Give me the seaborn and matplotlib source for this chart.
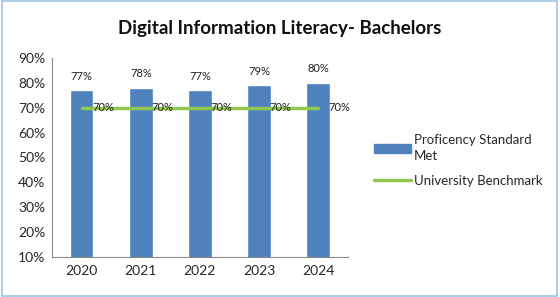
import matplotlib
matplotlib.use("Agg")
import matplotlib.pyplot as plt
import seaborn as sns
import pandas as pd
from matplotlib.patches import Rectangle, Patch
from matplotlib.lines import Line2D
from matplotlib.ticker import FixedLocator

years = ["2020", "2021", "2022", "2023", "2024"]
proficiency = [77, 78, 77, 79, 80]
benchmark = [70, 70, 70, 70, 70]
yticks = [10, 20, 30, 40, 50, 60, 70, 80, 90]

sns.set_style("white")
plt.rcParams['font.family'] = ['Lato', 'DejaVu Sans']

bar_color = "#4F81BD"
line_color = "#92C84F"

fig = plt.figure(figsize=(5.6, 2.97), dpi=100)
ax = fig.add_axes([0.093, 0.135, 0.528, 0.67])

df = pd.DataFrame({"year": years, "prof": proficiency, "bench": benchmark})
sns.barplot(data=df, x="year", y="prof", color=bar_color, width=0.4, ax=ax, saturation=1)
sns.lineplot(x=list(range(len(years))), y=benchmark, color=line_color, linewidth=2.5, ax=ax)

for i, v in enumerate(proficiency):
    ax.text(i, v + 3.5, f"{v}%", ha="center", va="bottom", fontsize=8, color="#222222")
for i, v in enumerate(benchmark):
    ax.text(i + 0.36, v, f"{v}%", ha="center", va="center", fontsize=8, color="#222222")

ax.set_ylim(10, 90)
ax.set_xlim(-0.5, len(years) - 0.5)
ax.set_yticks(yticks)
ax.set_yticklabels([f"{t}%" for t in yticks], fontsize=10)
ax.set_xticks(range(len(years)))
ax.set_xticklabels(years, fontsize=10)
ax.set_xlabel("")
ax.set_ylabel("")
ax.tick_params(axis="y", length=3, color="#888888", pad=2)
ax.tick_params(axis="x", length=0, pad=6)
ax.xaxis.set_minor_locator(FixedLocator([i - 0.5 for i in range(len(years) + 1)]))
ax.tick_params(axis="x", which="minor", length=4, color="#888888")
for s in ["top", "right"]:
    ax.spines[s].set_visible(False)
for s in ["left", "bottom"]:
    ax.spines[s].set_color("#888888")
    ax.spines[s].set_linewidth(0.8)

handles = [Patch(facecolor=bar_color, edgecolor=bar_color),
           Line2D([0], [0], color=line_color, linewidth=2.5)]
labels = ["Proficency Standard\nMet", "University Benchmark"]
leg = fig.legend(handles, labels, loc="center left", bbox_to_anchor=(0.646, 0.46),
                 frameon=False, fontsize=9.5, handlelength=2.8, labelspacing=1.0,
                 handletextpad=0.25)
for t in leg.get_texts():
    t.set_linespacing(1.4)

fig.text(0.5, 0.905, "Digital Information Literacy- Bachelors", ha="center", va="center",
         fontsize=13.5, fontweight="bold", color="#111111")

fig.patches.append(Rectangle((0.003, 0.005), 0.992, 0.99, transform=fig.transFigure,
                             fill=False, edgecolor="#9DC3E6", linewidth=1.2))

fig.savefig("out.png", dpi=100)
